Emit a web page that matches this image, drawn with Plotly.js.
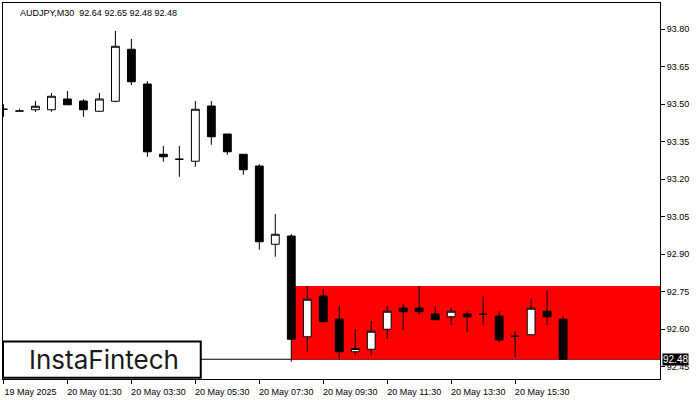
<!DOCTYPE html>
<html>
<head>
<meta charset="utf-8">
<script src="https://cdn.plot.ly/plotly-3.0.1.min.js"></script>
<style>html,body{margin:0;padding:0;background:#fff;}#chart{width:700px;height:400px;}</style>
</head>
<body>
<div id="chart"></div>
<script>
// ---- data (AUDJPY, M30) ----
const barTimes = [
  '2025-05-19 23:30','2025-05-20 00:00','2025-05-20 00:30','2025-05-20 01:00',
  '2025-05-20 01:30','2025-05-20 02:00','2025-05-20 02:30','2025-05-20 03:00',
  '2025-05-20 03:30','2025-05-20 04:00','2025-05-20 04:30','2025-05-20 05:00',
  '2025-05-20 05:30','2025-05-20 06:00','2025-05-20 06:30','2025-05-20 07:00',
  '2025-05-20 07:30','2025-05-20 08:00','2025-05-20 08:30','2025-05-20 09:00',
  '2025-05-20 09:30','2025-05-20 10:00','2025-05-20 10:30','2025-05-20 11:00',
  '2025-05-20 11:30','2025-05-20 12:00','2025-05-20 12:30','2025-05-20 13:00',
  '2025-05-20 13:30','2025-05-20 14:00','2025-05-20 14:30','2025-05-20 15:00',
  '2025-05-20 15:30','2025-05-20 16:00','2025-05-20 16:30','2025-05-20 17:00'
];
const openP  = [93.480,93.473,93.478,93.478,93.521,93.513,93.472,93.512,93.720,93.581,93.300,93.280,
                93.272,93.493,93.381,93.300,93.253,92.940,92.973,92.570,92.733,92.641,92.510,92.520,
                92.600,92.685,92.685,92.661,92.650,92.661,92.660,92.653,92.572,92.578,92.672,92.640];
const highP  = [93.500,93.482,93.513,93.545,93.553,93.520,93.545,93.793,93.761,93.593,93.333,93.333,
                93.513,93.513,93.381,93.300,93.260,93.061,92.981,92.773,92.761,92.693,92.601,92.633,
                92.693,92.701,92.773,92.693,92.685,92.672,92.733,92.672,92.592,92.721,92.753,92.650];
const lowP   = [93.450,93.471,93.469,93.470,93.497,93.450,93.470,93.508,93.577,93.290,93.270,93.210,
                93.250,93.338,93.298,93.218,92.918,92.890,92.470,92.510,92.630,92.480,92.497,92.497,
                92.560,92.597,92.658,92.638,92.617,92.589,92.618,92.549,92.488,92.578,92.618,92.480];
const closeP = [93.480,93.473,93.492,93.532,93.498,93.478,93.521,93.732,93.590,93.310,93.290,93.280,
                93.480,93.370,93.310,93.238,92.950,92.980,92.560,92.720,92.630,92.510,92.523,92.592,
                92.672,92.670,92.670,92.638,92.672,92.650,92.660,92.557,92.572,92.684,92.650,92.480];

const tickTimes  = ['2025-05-19 23:30','2025-05-20 01:30','2025-05-20 03:30','2025-05-20 05:30',
                    '2025-05-20 07:30','2025-05-20 09:30','2025-05-20 11:30','2025-05-20 13:30','2025-05-20 15:30'];
const tickLabels = ['19 May 2025','20 May 01:30','20 May 03:30','20 May 05:30',
                    '20 May 07:30','20 May 09:30','20 May 11:30','20 May 13:30','20 May 15:30'];
const priceTicks = [93.80,93.65,93.50,93.35,93.20,93.05,92.90,92.75,92.60,92.45];

const symbolTitle = 'AUDJPY,M30  92.64 92.65 92.48 92.48';
const bidPrice = 92.48;
const rectStartTime = '2025-05-20 08:30';
const rectTop = 92.773;
const rectBottom = 92.479;
const logoText = 'InstaFintech';

// ---- chart ----
const xRange = [-0.03, 41.06];
const yRange = [92.401, 93.905];

const trace = {
  type: 'candlestick',
  x: barTimes, open: openP, high: highP, low: lowP, close: closeP,
  increasing: {line: {color: '#000', width: 1}, fillcolor: '#ffffff'},
  decreasing: {line: {color: '#000', width: 1}, fillcolor: '#000000'},
  whiskerwidth: 0,
  hoverinfo: 'skip',
  showlegend: false
};

const layout = {
  width: 700, height: 400,
  margin: {l: 3, r: 40, t: 3, b: 21},
  paper_bgcolor: '#ffffff', plot_bgcolor: '#ffffff',
  font: {family: 'Liberation Sans, Arial, sans-serif', size: 9, color: '#000'},
  boxgap: 0.3,
  showlegend: false,
  xaxis: {
    type: 'category', range: xRange, rangeslider: {visible: false},
    tickmode: 'array', tickvals: tickTimes, ticktext: tickLabels,
    ticks: 'outside', ticklen: 4, tickcolor: '#000', tickwidth: 1,
    showgrid: false, zeroline: false,
    showline: true, linecolor: '#000', linewidth: 1, mirror: true,
    ticklabelshift: 27, tickfont: {size: 9, color: '#000'}
  },
  yaxis: {
    side: 'right', range: yRange,
    tickmode: 'array', tickvals: priceTicks, ticktext: priceTicks.map(v => v.toFixed(2)),
    ticks: 'outside', ticklen: 4, tickcolor: '#000', tickwidth: 1,
    showgrid: false, zeroline: false,
    showline: true, linecolor: '#000', linewidth: 1, mirror: true,
    tickfont: {size: 9, color: '#000'}
  },
  shapes: [
    {type: 'rect', layer: 'below', xref: 'x', yref: 'y',
     x0: barTimes.indexOf(rectStartTime), x1: xRange[1], y0: rectBottom, y1: rectTop,
     fillcolor: '#ff0000', line: {width: 0}},
    {type: 'line', layer: 'below', xref: 'paper', yref: 'y',
     x0: 0, x1: 1, y0: bidPrice, y1: bidPrice, line: {color: '#000', width: 1}},
    {type: 'rect', layer: 'above', xref: 'paper', yref: 'paper',
     x0: 0.0, x1: 0.301, y0: 0.003, y1: 0.10,
     fillcolor: '#ffffff', line: {color: '#000', width: 2}}
  ],
  annotations: [
    {xref: 'paper', yref: 'paper', x: 0.023, y: 0.993, xanchor: 'left', yanchor: 'top',
     text: symbolTitle, showarrow: false, font: {size: 9, color: '#000'}},
    {xref: 'paper', yref: 'y', x: 1.003, y: bidPrice, xanchor: 'left', yanchor: 'middle',
     text: bidPrice.toFixed(2), showarrow: false, bgcolor: '#000', borderpad: 0,
     font: {size: 10, color: '#fff'}},
    {xref: 'paper', yref: 'paper', x: 0.153, y: 0.052, xanchor: 'center', yanchor: 'middle',
     text: logoText, showarrow: false,
     font: {family: 'Inter, Lato, sans-serif', size: 26, color: '#1a1a1a', weight: 400}}
  ]
};

Plotly.newPlot('chart', [trace], layout, {staticPlot: true, displayModeBar: false});
</script>
</body>
</html>
